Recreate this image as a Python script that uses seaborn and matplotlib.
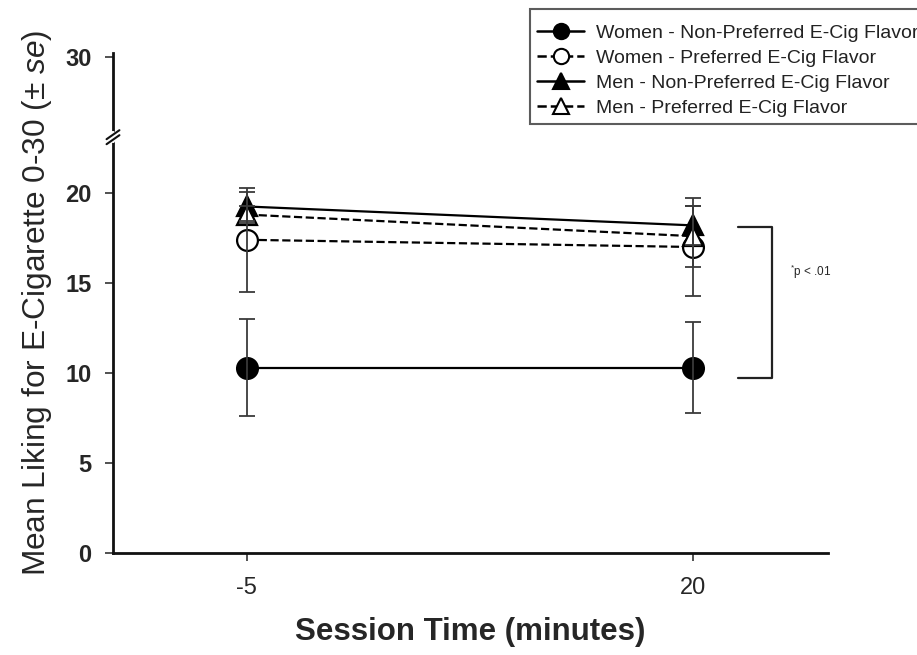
import numpy as np
import pandas as pd
import matplotlib
matplotlib.use("Agg")
import matplotlib.pyplot as plt
from matplotlib.lines import Line2D
import seaborn as sns

# ---- data -------------------------------------------------------------
times = [-5, 20]
groups = [
    "Women - Non-Preferred E-Cig Flavor",
    "Women - Preferred E-Cig Flavor",
    "Men - Non-Preferred E-Cig Flavor",
    "Men - Preferred E-Cig Flavor",
]
women_nonpref = [10.3, 10.3]
women_pref = [17.4, 17.0]
men_nonpref = [19.25, 18.2]
men_pref = [18.8, 17.6]

women_nonpref_se = [2.7, 2.55]
women_pref_se = [2.9, 2.7]
men_nonpref_se = [0.8, 1.1]
men_pref_se = [0.45, 1.7]

y_ticks = [0, 5, 10, 15, 20, 30]
x_ticks = [-5, 20]
sig_text = r"$^{*}$p < .01"
bracket_range = [9.7, 18.13]

# ---- style ------------------------------------------------------------
sns.set_theme(style="ticks")
plt.rcParams["font.family"] = ["Liberation Sans", "DejaVu Sans"]
plt.rcParams["mathtext.fontset"] = "custom"
plt.rcParams["mathtext.rm"] = "Liberation Sans"
plt.rcParams["mathtext.it"] = "Liberation Sans:italic"
plt.rcParams["mathtext.bf"] = "Liberation Sans:bold"

fig = plt.figure(figsize=(9.17, 6.55), dpi=100)
ax = fig.add_axes([113 / 917, 102 / 655, 715 / 917, 500 / 655])

# compressed region above the axis break
BRK = 23.1
K = 0.646


def fwd(y):
    y = np.asarray(y, dtype=float)
    return np.where(y <= BRK, y, BRK + (y - BRK) * K)


def inv(v):
    v = np.asarray(v, dtype=float)
    return np.where(v <= BRK, v, BRK + (v - BRK) / K)


ax.set_yscale("function", functions=(fwd, inv))

df = pd.DataFrame({
    "time": np.tile(times, 4),
    "liking": women_nonpref + women_pref + men_nonpref + men_pref,
    "se": women_nonpref_se + women_pref_se + men_nonpref_se + men_pref_se,
    "group": np.repeat(groups, len(times)),
})

styles = {
    groups[0]: dict(marker="o", mfc="black", ls="-", ms=15),
    groups[1]: dict(marker="o", mfc="white", ls="--", ms=15),
    groups[2]: dict(marker="^", mfc="black", ls="-", ms=14),
    groups[3]: dict(marker="^", mfc="white", ls="--", ms=14),
}

for g in groups:
    sub = df[df["group"] == g]
    st = styles[g]
    sns.lineplot(data=sub, x="time", y="liking", ax=ax, color="black",
                 marker=st["marker"], markersize=st["ms"],
                 markerfacecolor=st["mfc"], markeredgecolor="black",
                 markeredgewidth=1.6, linestyle=st["ls"], linewidth=1.6,
                 errorbar=None, legend=False, zorder=3)
    ax.errorbar(sub["time"], sub["liking"], yerr=sub["se"], fmt="none",
                ecolor="#3a3a3a", elinewidth=1.3, capsize=5.8, capthick=1.3,
                zorder=4)

# ---- axes -------------------------------------------------------------
ax.set_xlim(-12.5, 27.55)
ax.set_ylim(0, 30.34)
ax.set_xticks(x_ticks)
ax.set_yticks(y_ticks)
ax.set_xticklabels([str(t) for t in x_ticks], fontsize=17)
ax.set_yticklabels([str(t) for t in y_ticks], fontsize=17, fontweight="bold")
ax.tick_params(axis="x", length=5.5, width=1.1, pad=12, color="#222")
ax.tick_params(axis="y", length=5.5, width=1.1, pad=10, color="#222")
sns.despine(ax=ax)
for s in ("left", "bottom"):
    ax.spines[s].set_linewidth(2.0)
    ax.spines[s].set_color("#111")

ax.set_xlabel("Session Time (minutes)", fontsize=22.5, fontweight="bold",
              labelpad=13)
ax.set_ylabel(r"Mean Liking for E-Cigarette 0-30 (± $\it{se}$)",
              fontsize=22.8, labelpad=8)

# axis break marks on the left spine
yb = ax.transAxes.inverted().transform(ax.transData.transform((0, BRK)))[1]
ax.plot([0, 0], [yb - 0.008, yb + 0.008], transform=ax.transAxes,
        color="white", lw=3, clip_on=False, zorder=5)
for dy in (-0.005, 0.005):
    ax.plot([-0.009, 0.009], [yb + dy - 0.009, yb + dy + 0.009],
            transform=ax.transAxes, color="#111", lw=1.5, clip_on=False,
            zorder=6)

# significance bracket
ax.plot([22.5, 24.4, 24.4, 22.5],
        [bracket_range[1], bracket_range[1], bracket_range[0], bracket_range[0]],
        color="#222", lw=1.6, clip_on=False)
ax.text(25.4, 15.6, sig_text, fontsize=8.5, va="center", ha="left")

# ---- legend -----------------------------------------------------------
handles = [
    Line2D([], [], color="black", ls=styles[g]["ls"], lw=1.8,
           marker=styles[g]["marker"], mfc=styles[g]["mfc"], mec="black",
           mew=1.5, ms=11)
    for g in groups
]
# a blank, tiny title gives extra room above the first entry
leg = fig.legend(handles, groups, loc="upper left",
                 bbox_to_anchor=(530 / 917, 1 - 9 / 655),
                 bbox_transform=fig.transFigure, fontsize=14,
                 title=" ", title_fontsize=1,
                 frameon=True, fancybox=False, edgecolor="#333",
                 labelspacing=0.38, handlelength=2.45, handletextpad=0.6,
                 borderpad=0.35, borderaxespad=0)
leg.get_frame().set_linewidth(1.5)
for t in leg.get_texts():
    t.set_color("#222")

fig.savefig("out.png", dpi=100)
